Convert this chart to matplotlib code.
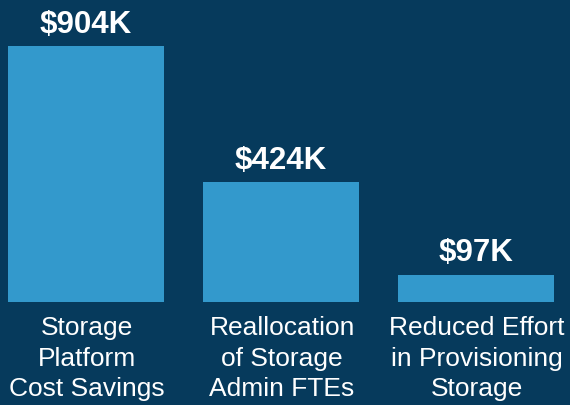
import matplotlib
matplotlib.use("Agg")
import matplotlib.pyplot as plt

categories = ["Storage\nPlatform\nCost Savings",
              "Reallocation\nof Storage\nAdmin FTEs",
              "Reduced Effort\nin Provisioning\nStorage"]
values = [904, 424, 97]
value_labels = ["$904K", "$424K", "$97K"]

bg = "#063a5c"
bar_color = "#3399cc"

plt.rcParams['font.family'] = ['Liberation Sans', 'DejaVu Sans']

fig = plt.figure(figsize=(5.7, 4.05), dpi=100, facecolor=bg)
ax = fig.add_axes([0, 0.254, 1, 0.746])
ax.set_facecolor(bg)

x = range(len(values))
bars = ax.bar(x, values, width=0.8, color=bar_color)

ax.set_xlim(-0.441, 2.482)
ax.set_ylim(0, 1066)
for s in ax.spines.values():
    s.set_visible(False)
ax.set_xticks([])
ax.set_yticks([])

# value labels above bars
for xi, v, lab in zip(x, values, value_labels):
    ax.annotate(lab, (xi, v), xytext=(0, 4.5), textcoords="offset points",
                ha="center", va="bottom", color="white",
                fontsize=22.5, fontweight="bold")

# category labels under bars
for xi, cat in zip(x, categories):
    ax.annotate(cat, (xi, 0), xytext=(0.8, -10), textcoords="offset points",
                ha="center", va="top", color="white",
                fontsize=19, linespacing=1.35, annotation_clip=False)

fig.savefig("out.png", dpi=100, facecolor=bg)
